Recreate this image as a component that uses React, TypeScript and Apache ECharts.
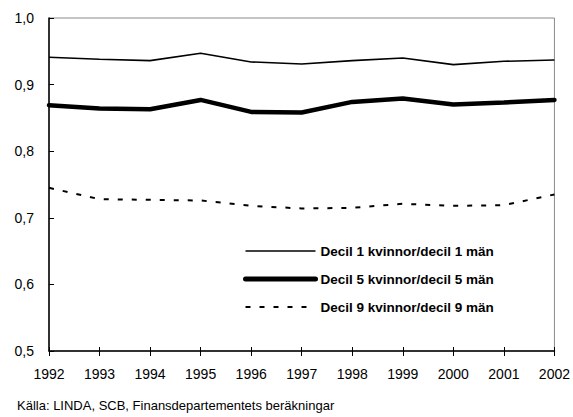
import React, { useEffect, useRef } from "react";
import * as echarts from "echarts";

const years = ["1992", "1993", "1994", "1995", "1996", "1997", "1998", "1999", "2000", "2001", "2002"];
const decil1 = [0.941, 0.938, 0.936, 0.947, 0.934, 0.931, 0.936, 0.940, 0.930, 0.935, 0.937];
const decil5 = [0.869, 0.864, 0.863, 0.877, 0.859, 0.858, 0.874, 0.879, 0.870, 0.873, 0.877];
const decil9 = [0.745, 0.728, 0.727, 0.726, 0.718, 0.714, 0.715, 0.721, 0.718, 0.719, 0.735];
const seriesNames = [
  "Decil 1 kvinnor/decil 1 män",
  "Decil 5 kvinnor/decil 5 män",
  "Decil 9 kvinnor/decil 9 män",
];
const lineWidths = [1.6, 4.5, 2];
const sourceText = "Källa: LINDA, SCB, Finansdepartementets beräkningar";

const FONT = "'Liberation Sans', Arial, sans-serif";

export default function App() {
  const ref = useRef<HTMLDivElement>(null);
  useEffect(() => {
    if (!ref.current) return;
    const chart = echarts.init(ref.current, null, { renderer: "svg" });
    chart.setOption({
      animation: false,
      backgroundColor: "#ffffff",
      textStyle: { fontFamily: FONT },
      grid: {
        left: 49,
        right: 18,
        top: 18,
        bottom: 66,
        show: true,
        borderColor: "#8a8a8a",
        borderWidth: 1,
      },
      legend: {
        orient: "vertical",
        left: 243,
        top: 244,
        padding: 0,
        itemWidth: 70,
        itemHeight: 14,
        itemGap: 14,
        itemStyle: { opacity: 0 },
        textStyle: {
          fontFamily: FONT,
          fontWeight: "bold",
          fontSize: 13.5,
          lineHeight: 14,
          color: "#000",
        },
        data: seriesNames.map((n, i) => ({
          name: n,
          lineStyle: { width: i === 1 ? 5 : lineWidths[i] },
          itemStyle: { opacity: 0 },
        })),
      },
      xAxis: [
        {
          type: "category",
          data: years,
          boundaryGap: false,
          position: "bottom",
          axisLine: { lineStyle: { color: "#000", width: 1.5 } },
          axisTick: { show: true, inside: false, length: 5, lineStyle: { color: "#000", width: 1 } },
          axisLabel: { color: "#000", fontSize: 14, fontFamily: FONT, margin: 16 },
          splitLine: { show: false },
        },
        {
          type: "category",
          data: years,
          boundaryGap: false,
          position: "bottom",
          axisLine: { show: false },
          axisTick: { show: true, inside: true, length: 4, lineStyle: { color: "#000", width: 1 } },
          axisLabel: { show: false },
          splitLine: { show: false },
        },
      ],
      yAxis: {
        type: "value",
        min: 0.5,
        max: 1.0,
        interval: 0.1,
        axisLine: { show: true, lineStyle: { color: "#000", width: 1.5 } },
        axisTick: { show: true, inside: true, length: 5, lineStyle: { color: "#000", width: 1 } },
        axisLabel: {
          color: "#000",
          fontSize: 14,
          fontFamily: FONT,
          margin: 15,
          formatter: (v: number) => v.toFixed(1).replace(".", ","),
        },
        splitLine: { show: false },
      },
      series: [
        {
          name: seriesNames[0],
          type: "line",
          data: decil1,
          symbol: "none",
          lineStyle: { color: "#000", width: lineWidths[0] },
          itemStyle: { color: "#000" },
        },
        {
          name: seriesNames[1],
          type: "line",
          data: decil5,
          symbol: "none",
          lineStyle: { color: "#000", width: lineWidths[1], cap: "round" },
          itemStyle: { color: "#000" },
        },
        {
          name: seriesNames[2],
          type: "line",
          data: decil9,
          symbol: "none",
          lineStyle: { color: "#000", width: lineWidths[2], type: [5, 9] },
          itemStyle: { color: "#000" },
        },
      ],
      graphic: [
        {
          type: "text",
          left: 17,
          top: 399,
          style: { text: sourceText, fontFamily: FONT, fontSize: 13, fill: "#000" },
        },
      ],
    });
    return () => chart.dispose();
  }, []);
  return (
    <div
      ref={ref}
      style={{ position: "fixed", left: 0, top: 0, width: 573, height: 417 }}
    />
  );
}
